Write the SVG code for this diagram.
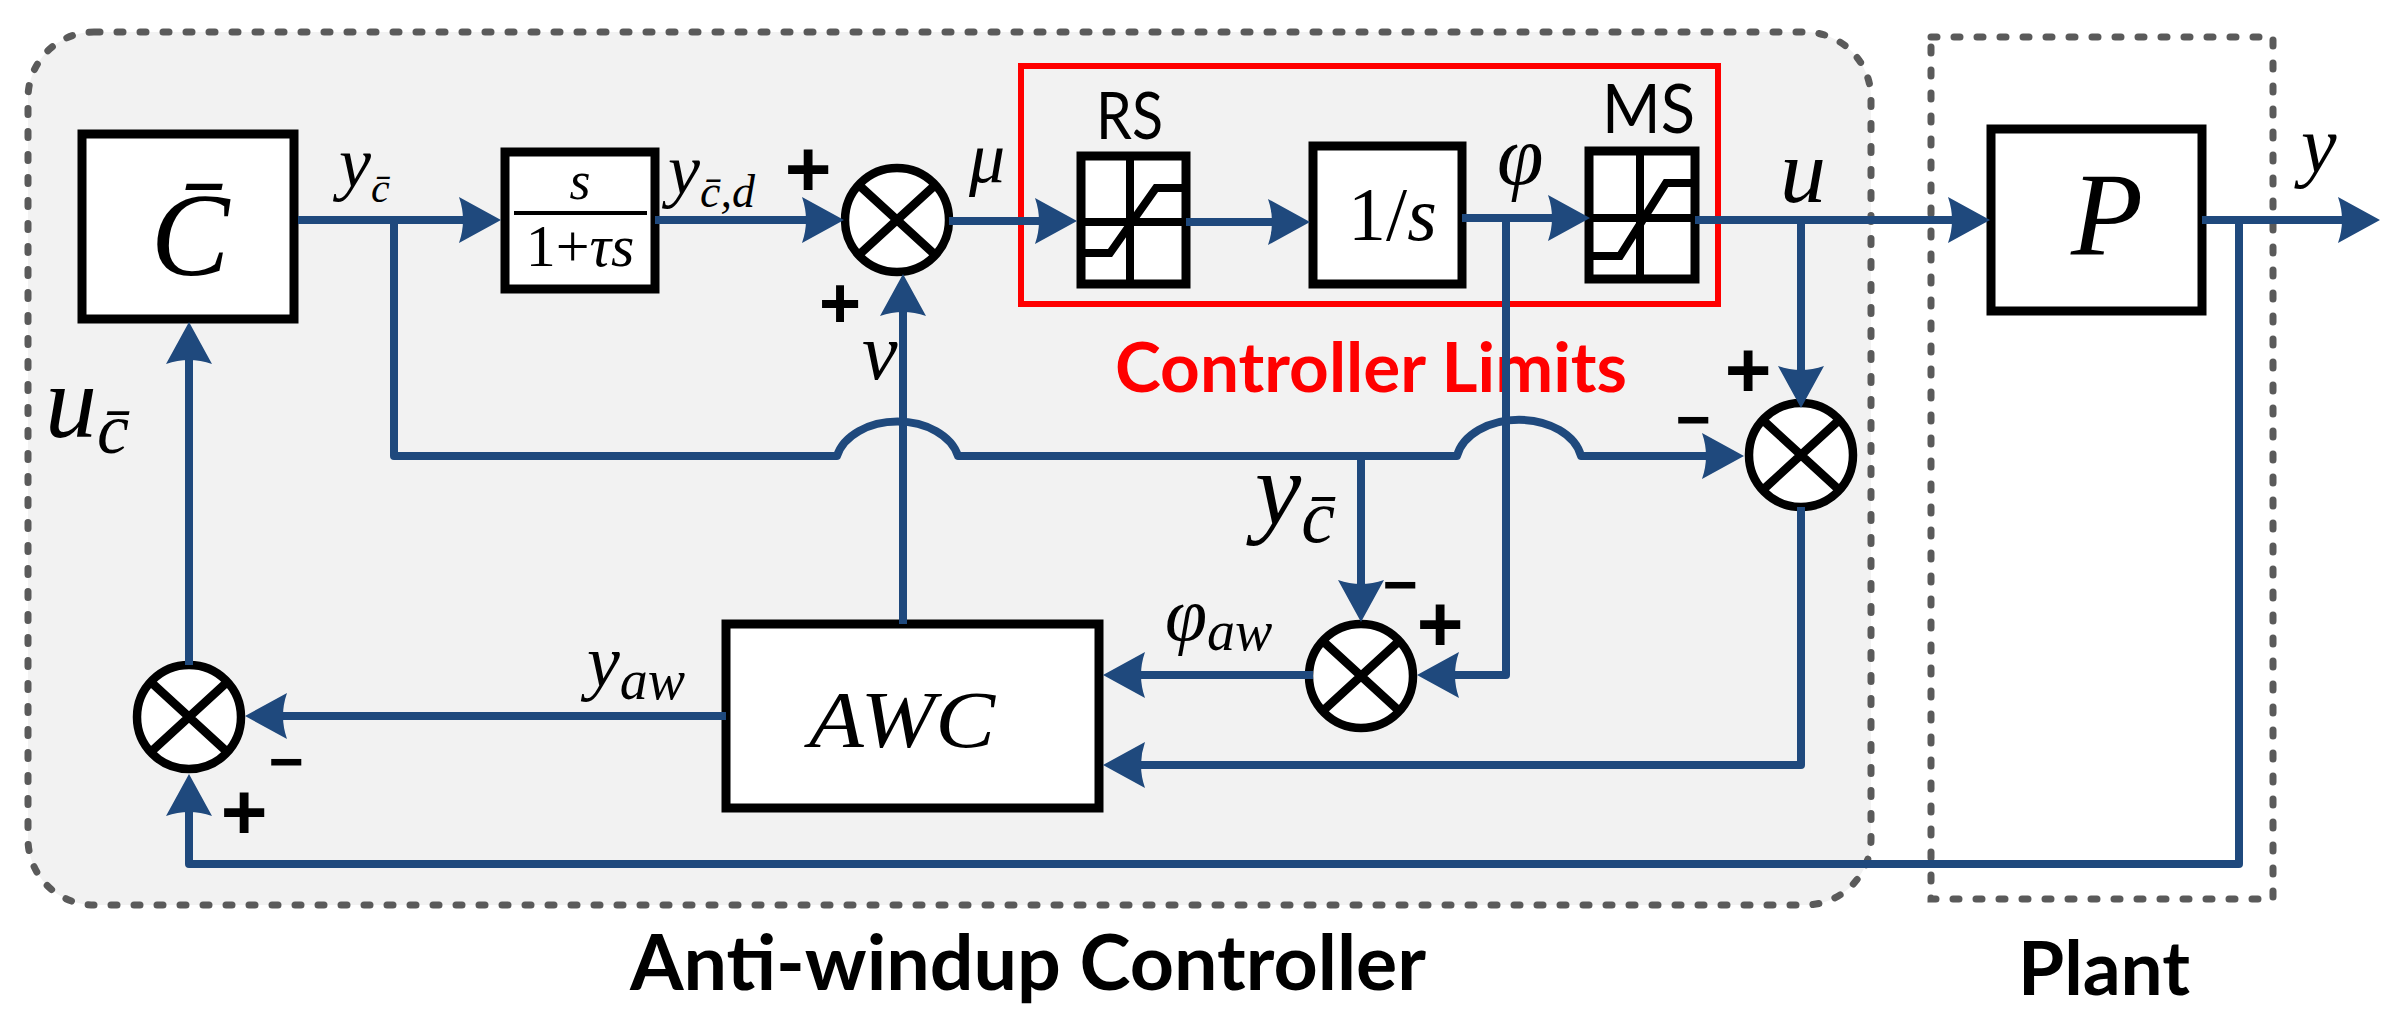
<svg xmlns="http://www.w3.org/2000/svg" width="2394" height="1024" viewBox="0 0 2394 1024">
<defs>
<style>
.box{fill:#fff;stroke:#000;stroke-width:9}
.sum{fill:#fff;stroke:#000;stroke-width:8.5}
.xl{fill:none;stroke:#000;stroke-width:8.5;stroke-linecap:round}
.ink{fill:none;stroke:#000;stroke-width:8}
.w{fill:none;stroke:#1f497d;stroke-width:8;stroke-linejoin:round}
.arr{marker-end:url(#ah)}
.m{font-family:"Liberation Serif","DejaVu Serif",serif;font-style:italic;fill:#000}
.up{font-style:normal}
.s{font-family:Lato,"Open Sans","Liberation Sans",sans-serif;fill:#000}
.b{font-weight:bold}
.sign{font-family:"Liberation Sans",Arial,sans-serif;font-weight:bold;text-anchor:middle;fill:#000}
.dash{stroke:#5a5a5a;stroke-width:7;stroke-linecap:round;stroke-dasharray:6 17}
</style>
<marker id="ah" markerUnits="userSpaceOnUse" markerWidth="45" markerHeight="50" viewBox="0 -25 45 50" refX="5" refY="0" orient="auto">
<path d="M42,0 L0,-23 Q8,0 0,23 Z" fill="#1f497d"/>
</marker>
</defs>
<rect x="0" y="0" width="2394" height="1024" fill="#fff"/>

<g id="anti-windup-region">
<rect class="dash" x="28" y="32" width="1843" height="873" rx="66" ry="66" fill="#f2f2f2"/>
<text class="s b" x="630" y="990" font-size="77" textLength="796" lengthAdjust="spacingAndGlyphs">Anti-windup Controller</text>
</g>

<g id="plant-region">
<rect class="dash" x="1931" y="37" width="342" height="862" fill="none"/>
<text class="s b" x="2018" y="995" font-size="74" textLength="172" lengthAdjust="spacingAndGlyphs">Plant</text>
</g>

<g id="controller-limits">
<rect x="1021" y="66" width="697" height="238" fill="none" stroke="#ff0000" stroke-width="6"/>
<text class="s b" x="1115" y="392" font-size="68" style="fill:#ff0000" textLength="512" lengthAdjust="spacingAndGlyphs">Controller Limits</text>
</g>

<g id="C-bar">
<rect class="box" x="82" y="134" width="212" height="185"/>
<text class="m" x="190" y="275" font-size="118" text-anchor="middle">C̄</text>
</g>

<g id="filter">
<rect class="box" x="505" y="152" width="150" height="137"/>
<line x1="514" y1="213" x2="647" y2="213" stroke="#000" stroke-width="4"/>
<text class="m" x="580" y="199" font-size="54" text-anchor="middle">s</text>
<text class="m" x="580" y="266" font-size="60" text-anchor="middle"><tspan class="up">1+</tspan>τs</text>
</g>

<g id="sum1">
<circle class="sum" cx="897" cy="220" r="52"/>
<path class="xl" d="M861,187L933,253M933,187L861,253"/>
</g>

<g id="RS">
<rect class="box" x="1081" y="156" width="105" height="128"/>
<path class="ink" d="M1130,156V284M1081,222H1186"/>
<path class="ink" d="M1085,253H1110L1156,188H1183"/>
<text class="s" x="1096" y="139" font-size="66" textLength="67" lengthAdjust="spacingAndGlyphs">RS</text>
</g>

<g id="integrator">
<rect class="box" x="1313" y="146" width="149" height="138"/>
<text class="m" x="1348" y="240" font-size="76"><tspan class="up">1/</tspan>s</text>
</g>

<g id="MS">
<rect class="box" x="1589" y="151" width="106" height="128"/>
<path class="ink" d="M1640,151V279M1589,218H1695"/>
<path class="ink" d="M1593,256H1620L1666,183H1691"/>
<text class="s" x="1602" y="133" font-size="67" textLength="93" lengthAdjust="spacingAndGlyphs">MS</text>
</g>

<g id="plant">
<rect class="box" x="1991" y="129" width="211" height="182"/>
<text class="m" x="2107" y="255" font-size="118" text-anchor="middle">P</text>
</g>

<g id="sum2">
<circle class="sum" cx="1801" cy="455" r="52"/>
<path class="xl" d="M1765,422L1837,488M1837,422L1765,488"/>
</g>

<g id="sum3">
<circle class="sum" cx="1361" cy="676" r="52"/>
<path class="xl" d="M1325,643L1397,709M1397,643L1325,709"/>
</g>

<g id="sum4">
<circle class="sum" cx="189" cy="717" r="52"/>
<path class="xl" d="M153,684L225,750M225,684L153,750"/>
</g>

<g id="AWC">
<rect class="box" x="726" y="624" width="373" height="184"/>
<text class="m" x="809" y="747" font-size="80" textLength="186" lengthAdjust="spacingAndGlyphs">AWC</text>
</g>

<g id="connectors">
<path class="w arr" d="M298,220H464"/>
<path class="w" d="M394,220V456H837A62 44 0 0 1 958,456H1457A63 44 0 0 1 1581,456H1707"/>
<path class="w arr" d="M1650,456H1707"/>
<path class="w arr" d="M1361,456V585"/>
<path class="w arr" d="M655,220H807"/>
<path class="w arr" d="M949,221H1040"/>
<path class="w arr" d="M1186,222H1273"/>
<path class="w arr" d="M1462,218H1553"/>
<path class="w arr" d="M1506,218V675H1454"/>
<path class="w arr" d="M1695,220H1953"/>
<path class="w arr" d="M1801,220V371"/>
<path class="w arr" d="M2202,220H2343"/>
<path class="w arr" d="M2239,220V864H189V811"/>
<path class="w arr" d="M1801,507V765H1140"/>
<path class="w arr" d="M1313,675H1140"/>
<path class="w arr" d="M726,716H282"/>
<path class="w arr" d="M903,624V311"/>
<path class="w arr" d="M189,665V359"/>
</g>

<g id="labels">
<text class="m" x="339" y="187" font-size="72">y<tspan font-size="42" dy="15">c̄</tspan></text>
<text class="m" x="668" y="194" font-size="72">y<tspan font-size="46" dy="13">c̄,d</tspan></text>
<text class="m" x="969" y="182" font-size="72">μ</text>
<text class="m" x="862" y="379" font-size="80">v</text>
<text class="m" x="1497" y="184" font-size="84">φ</text>
<text class="m" x="1780" y="202" font-size="92">u</text>
<text class="m" x="2301" y="172" font-size="80">y</text>
<text class="m" x="45" y="437" font-size="104">u<tspan font-size="72" dy="16">c̄</tspan></text>
<text class="m" x="1255" y="524" font-size="104">y<tspan font-size="76" dy="18">c̄</tspan></text>
<text class="m" x="587" y="686" font-size="74">y<tspan font-size="56" dy="13">aw</tspan></text>
<text class="m" x="1165" y="640" font-size="76">φ<tspan font-size="56" dy="10">aw</tspan></text>
<text class="sign" x="808" y="196" font-size="80">+</text>
<text class="sign" x="840" y="328" font-size="72">+</text>
<text class="sign" x="1748" y="397" font-size="80">+</text>
<text class="sign" x="1440" y="651" font-size="80">+</text>
<text class="sign" x="244" y="839" font-size="80">+</text>
<text class="sign" x="1693" y="440" font-size="60">−</text>
<text class="sign" x="1400" y="605" font-size="60">−</text>
<text class="sign" x="286" y="782" font-size="60">−</text>
</g>
</svg>
